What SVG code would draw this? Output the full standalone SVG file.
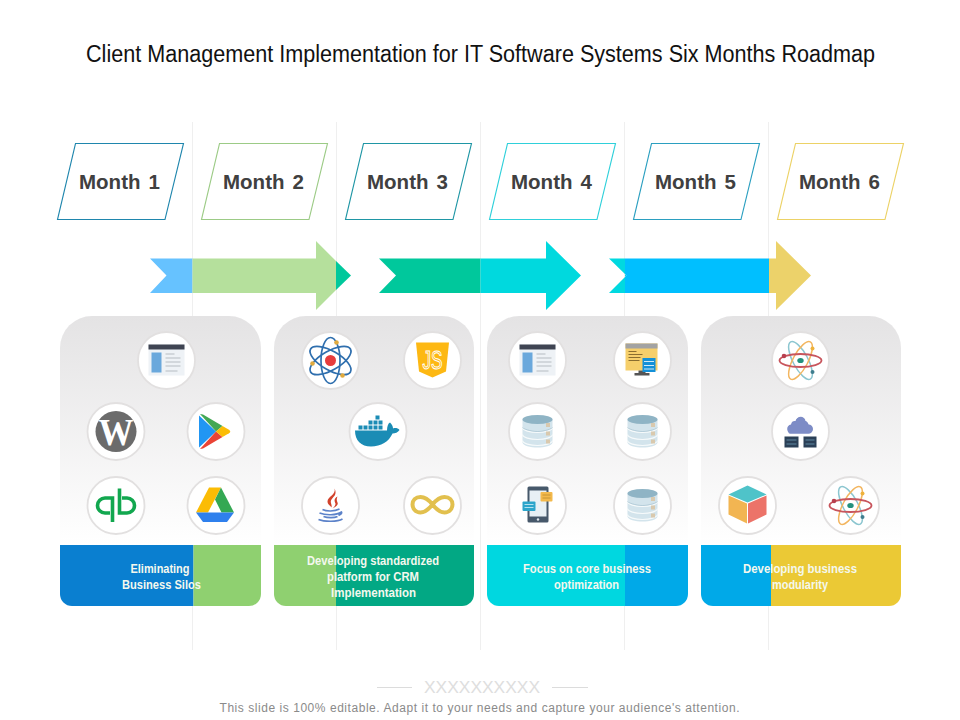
<svg xmlns="http://www.w3.org/2000/svg" width="960" height="720" viewBox="0 0 960 720">
<style>
text{font-family:"Liberation Sans",Arial,sans-serif}
.title{font-size:23.500px;fill:#111;text-anchor:middle}
.mon{font-size:20.500px;font-weight:700;fill:#404040;text-anchor:middle;word-spacing:2.400px}
.lab{font-family:"Liberation Sans Narrow","Liberation Sans",Arial,sans-serif;font-size:12.500px;font-weight:700;fill:#f4f8ee;text-anchor:middle}
.foot{font-size:12px;fill:#8a8a8a;text-anchor:middle}
.guide{stroke:#efefef;stroke-width:1;fill:none}
.para{fill:#fff;stroke-width:1.100}
.disc{fill:#fff;stroke:#e2e0e0;stroke-width:1.800}
</style>
<defs>
<linearGradient id="pg" x1="0" y1="0" x2="0" y2="1">
<stop offset="0" stop-color="#e4e3e4"/><stop offset="1" stop-color="#ffffff"/>
</linearGradient>
<g id="browser">
<rect x="-18" y="-16" width="36" height="31" fill="#eef2f6"/>
<rect x="-18" y="-16" width="36" height="5" fill="#3f4452"/>
<rect x="-15" y="-8" width="10" height="20" fill="#6aa8dc"/>
<path d="M-1-6.500H8M-1-2.500H14M-1 1.500H14M-1 5.500H14M-1 10.500H11" stroke="#c9ced3" stroke-width="1.300" fill="none"/>
</g>
<g id="db">
<path d="M-15-12V11C-15 14 -7 16 0 16S15 14 15 11V-12Z" fill="#d3e4ec"/>
<path d="M-15-4C-15-1-7 1 0 1S15-1 15-4M-15 3C-15 6-7 8 0 8S15 6 15 3M-15 9C-15 12-7 14 0 14S15 12 15 9" stroke="#f6fafb" stroke-width="1.200" fill="none"/>
<path d="M-15-4C-15-3-7 0 0 0S15-3 15-4" stroke="#9dbccb" stroke-width="0.600" fill="none"/>
<ellipse cx="0" cy="-12" rx="15" ry="4.500" fill="#8fb4c5"/>
<rect x="8.500" y="-8.500" width="4" height="4" fill="#d9c9ae"/><rect x="8.500" y="0" width="4" height="4" fill="#d9c9ae"/><rect x="8.500" y="8" width="4" height="4" fill="#d9c9ae"/>
</g>
<g id="atom2">
<ellipse rx="21" ry="7.500" transform="rotate(62)" fill="none" stroke="#8cc6d0" stroke-width="1.500"/>
<ellipse rx="21" ry="7.500" transform="rotate(-62)" fill="none" stroke="#f3b660" stroke-width="1.500"/>
<ellipse rx="21" ry="6.500" fill="none" stroke="#c8555c" stroke-width="1.800"/>
<ellipse rx="3.200" ry="2.600" fill="#23917d"/>
<circle cx="-16.500" cy="-4.500" r="2.300" fill="#b8404f"/>
<circle cx="12" cy="-12" r="2" fill="#eeb23c"/>
<circle cx="12" cy="11.500" r="2" fill="#3f7d8e"/>
</g>
</defs>
<rect width="960" height="720" fill="#fff"/>
<text class="title" x="480.500" y="62" textLength="789" lengthAdjust="spacingAndGlyphs">Client Management Implementation for IT Software Systems Six Months Roadmap</text>

<g id="connectors">
<path class="guide" d="M192.500 122V650M336.500 122V650M480.500 122V650M624.500 122V650M768.500 122V650"/>
<polygon points="150,258.500 192.500,258.500 192.500,293 150,293 166.500,275.500" fill="#66c2ff"/>
<polygon points="192.500,258.500 316,258.500 316,241 336,261 336,290 316,310 316,293 192.500,293" fill="#b5e09c"/>
<polygon points="336,261 351,275.500 336,290" fill="#00c89c"/>
<polygon points="379,258.500 480.500,258.500 480.500,293 379,293 396,275.500" fill="#00c89c"/>
<polygon points="480.500,258.500 546,258.500 546,241 581,275.500 546,310 546,293 480.500,293" fill="#00d9de"/>
<polygon points="609,258.500 625,258.500 625,293 609,293 626.500,275.500" fill="#00d9e0"/>
<polygon points="625,258.500 769,258.500 769,293 625,293 625,277 626.500,275.500 625,274" fill="#00bfff"/>
<polygon points="769,258.500 776,258.500 776,241 811,275.500 776,310 776,293 769,293" fill="#ecd26a"/>
</g>

<g id="month-1"><polygon class="para" points="75.500,143.500 183.500,143.500 165,219.500 57.500,219.500" stroke="#1f86ad"/><text class="mon" x="119.500" y="189">Month 1</text></g>
<g id="month-2"><polygon class="para" points="219.500,143.500 327.500,143.500 309,219.500 201.500,219.500" stroke="#9ccb86"/><text class="mon" x="263.500" y="189">Month 2</text></g>
<g id="month-3"><polygon class="para" points="363.500,143.500 471.500,143.500 453,219.500 345.500,219.500" stroke="#1f96a5"/><text class="mon" x="407.500" y="189">Month 3</text></g>
<g id="month-4"><polygon class="para" points="507.500,143.500 615.500,143.500 597,219.500 489.500,219.500" stroke="#2fd0da"/><text class="mon" x="551.500" y="189">Month 4</text></g>
<g id="month-5"><polygon class="para" points="651.500,143.500 759.500,143.500 741,219.500 633.500,219.500" stroke="#2b9fc0"/><text class="mon" x="695.500" y="189">Month 5</text></g>
<g id="month-6"><polygon class="para" points="795.500,143.500 903.500,143.500 885,219.500 777.500,219.500" stroke="#ecd266"/><text class="mon" x="839.500" y="189">Month 6</text></g>

<g id="panel-1">
<path d="M60 545V348A32 32 0 0 1 92 316H229A32 32 0 0 1 261 348V545Z" fill="url(#pg)"/>
<path d="M60 545H193.500V606H72A12 12 0 0 1 60 594Z" fill="#0a7fd0"/>
<path d="M193.500 545H261V594A12 12 0 0 1 249 606H193.500Z" fill="#8fd070"/>
<text class="lab" x="160" y="573" textLength="59" lengthAdjust="spacingAndGlyphs">Eliminating</text>
<text class="lab" x="161.500" y="589" textLength="79" lengthAdjust="spacingAndGlyphs">Business Silos</text>

<g id="icon-browser-1" transform="translate(166.500 360.500)"><circle class="disc" r="28.500"/><use href="#browser"/></g>
<g id="icon-wordpress" transform="translate(116 431.500)"><circle class="disc" r="28.500"/><circle r="20.500" fill="#6b6b6b"/><text x="0" y="13" text-anchor="middle" style="font-family:'Liberation Serif',serif;font-size:37px;font-weight:700;fill:#fff" textLength="35" lengthAdjust="spacingAndGlyphs">W</text></g>
<g id="icon-play" transform="translate(216 431.500)"><circle class="disc" r="28.500"/>
<polygon points="-17,-16 -17,16 0,0" fill="#2196f3"/>
<polygon points="-16,-17.500 -13,-17 6.500,-5.500 0,0" fill="#43a854"/>
<polygon points="-16,17.500 -13,17 6.500,5.500 0,0" fill="#ea4335"/>
<path d="M6.500-5.500 13-1.800Q15.500 0 13 1.800L6.500 5.500 0 0Z" fill="#fbbc05"/></g>
<g id="icon-qb" transform="translate(116 505.500)"><circle class="disc" r="28.500"/>
<path d="M-6 7.500H-11A7.500 7.500 0 0 1-11-7.500H-3.500V16.500M6-7.500H11A7.500 7.500 0 0 1 11 7.500H3.500V-17" fill="none" stroke="#12a74f" stroke-width="3.600"/></g>
<g id="icon-drive" transform="translate(216 505.500)"><circle class="disc" r="28.500"/>
<polygon points="-7,-18 5,-18 -8,7 -20,7" fill="#fbbc05"/>
<polygon points="5,-18 18,7 5.500,7 -1,-6" fill="#34a853"/>
<polygon points="-20,7 18,7 11,16.500 -13,16.500" fill="#2f80ed"/></g>
</g>

<g id="panel-2">
<path d="M274 545V348A32 32 0 0 1 306 316H442A32 32 0 0 1 474 348V545Z" fill="url(#pg)"/>
<path d="M274 545H336V606H286A12 12 0 0 1 274 594Z" fill="#8fd070"/>
<path d="M336 545H474V594A12 12 0 0 1 462 606H336Z" fill="#02a884"/>
<text class="lab" x="373" y="565" textLength="132" lengthAdjust="spacingAndGlyphs">Developing standardized</text>
<text class="lab" x="373" y="581" textLength="92" lengthAdjust="spacingAndGlyphs">platform for CRM</text>
<text class="lab" x="373.500" y="597" textLength="85" lengthAdjust="spacingAndGlyphs">Implementation</text>

<g id="icon-atom" transform="translate(330.500 360.500)"><circle class="disc" r="28.500"/>
<g fill="none" stroke="#2f6fae" stroke-width="1.700"><ellipse rx="23" ry="9.500" transform="rotate(30)"/><ellipse rx="23" ry="9.500" transform="rotate(-30)"/><ellipse rx="23" ry="9.500" transform="rotate(90)"/></g>
<circle r="5.500" fill="#e63c3c"/><circle cx="6" cy="-18" r="2.300" fill="#e0aa3e"/><circle cx="-18" cy="3" r="2.300" fill="#e0aa3e"/><circle cx="12" cy="15" r="2.300" fill="#e0aa3e"/></g>
<g id="icon-js" transform="translate(432.500 360.500)"><circle class="disc" r="28.500"/>
<polygon points="-16.500,-18 16.500,-18 13.500,11 0,17 -13.500,11" fill="#fdb813"/>
<text x="0" y="8" text-anchor="middle" style="font-size:25px;fill:none;stroke:#fff;stroke-width:1" textLength="20" lengthAdjust="spacingAndGlyphs">JS</text></g>
<g id="icon-docker" transform="translate(378 431.500)"><circle class="disc" r="28.500"/>
<g fill="#1b8cb5">
<path d="M-23-1H9C9-5 10-8 12-9 14-7 15-5 15-3 17-4 20-3.500 21.500-1.500 20 1 17 2 14.500 2 11 10 3 15-7 15-17 15-23 9-23-1Z"/>
<rect x="-19.500" y="-6" width="4" height="4"/><rect x="-14.500" y="-6" width="4" height="4"/><rect x="-9.500" y="-6" width="4" height="4"/><rect x="-4.500" y="-6" width="4" height="4"/><rect x="0.500" y="-6" width="4" height="4"/>
<rect x="-9.500" y="-11" width="4" height="4"/><rect x="-4.500" y="-11" width="4" height="4"/><rect x="0.500" y="-11" width="4" height="4"/>
<rect x="-2.500" y="-16" width="4" height="4"/></g></g>
<g id="icon-java" transform="translate(330.500 505.500)"><circle class="disc" r="28.500"/>
<path d="M4-17C6-11-3-9-3-4-3-1 0 0 1 2 2-1-1-3 1-6 3-9 7-11 4-17ZM7-9C3-7 4-4 5-2 5 0 4 1 2 3 6 1 8-1 7-3 6-5 6-7 7-9Z" fill="#d2422b"/>
<path d="M-8 4C-4 6 4 6 9 3.500M-11 7.500C-5 10 6 10 11 6.500 12 8 10 9 8 10M-7 11C-3 12.500 4 12.500 7 11M-12 14C-6 16.500 7 16.500 12 13.500" fill="none" stroke="#5c82c9" stroke-width="1.600"/></g>
<g id="icon-infinity" transform="translate(432.500 505.500)"><circle class="disc" r="28.500"/>
<path d="M0-1C-4-6-8-8.500-12-8.500-17-8.500-20-5-20-1S-17 7-12 7C-8 7-4 4 0-1 4-6 8-8.500 12-8.500 17-8.500 20-5 20-1S17 7 12 7C8 7 4 4 0-1Z" fill="none" stroke="#e2c04e" stroke-width="4"/></g>
</g>

<g id="panel-3">
<path d="M487 545V348A32 32 0 0 1 519 316H656A32 32 0 0 1 688 348V545Z" fill="url(#pg)"/>
<path d="M487 545H625V606H499A12 12 0 0 1 487 594Z" fill="#00d7e0"/>
<path d="M625 545H688V594A12 12 0 0 1 676 606H625Z" fill="#00a9e8"/>
<text class="lab" x="587" y="573" textLength="128" lengthAdjust="spacingAndGlyphs">Focus on core business</text>
<text class="lab" x="586.500" y="589" textLength="65" lengthAdjust="spacingAndGlyphs">optimization</text>

<g id="icon-browser-2" transform="translate(537.500 360.500)"><circle class="disc" r="28.500"/><use href="#browser"/></g>
<g id="icon-monitor" transform="translate(642.500 360.500)"><circle class="disc" r="28.500"/>
<rect x="-17" y="-17" width="32" height="27" fill="#f6cf6b"/><rect x="-17" y="-17" width="32" height="5" fill="#a3a3a3"/>
<path d="M-14-9H-6M-14-6H0M-14-3H-2M-14 0H-3" stroke="#8a6d2f" stroke-width="1" fill="none"/>
<rect x="-4" y="10" width="7" height="3" fill="#555"/><rect x="-8" y="12.500" width="15" height="2.500" fill="#555"/>
<rect x="0" y="-2.500" width="13" height="14" fill="#1390d8"/><path d="M1.500 1H11.500M1.500 5H11.500M1.500 8.500H11.500" stroke="#cfeaf8" stroke-width="1" fill="none"/></g>
<g id="icon-db-1" transform="translate(537.500 431.500)"><circle class="disc" r="28.500"/><use href="#db"/></g>
<g id="icon-db-2" transform="translate(642.500 431.500)"><circle class="disc" r="28.500"/><use href="#db"/></g>
<g id="icon-phone" transform="translate(537.500 505.500)"><circle class="disc" r="28.500"/>
<rect x="-10" y="-19" width="21" height="36" rx="1.500" fill="#47596b"/><rect x="-8" y="-15" width="17" height="26" fill="#e8f0f5"/><circle cx="0.500" cy="14" r="1.200" fill="#dfe6ea"/>
<rect x="3" y="-13.500" width="12" height="9.500" rx="1" fill="#f3b94c"/><path d="M5-10.500H13M5-7.500H13" stroke="#b98a2d" stroke-width="0.800"/>
<rect x="-15" y="-4" width="13" height="9.500" rx="1" fill="#2ca5cb"/><path d="M-13-1H-4M-13 2H-4" stroke="#d4f0f8" stroke-width="0.800"/></g>
<g id="icon-db-3" transform="translate(642.500 505.500)"><circle class="disc" r="28.500"/><use href="#db"/></g>
</g>

<g id="panel-4">
<path d="M701 545V348A32 32 0 0 1 733 316H869A32 32 0 0 1 901 348V545Z" fill="url(#pg)"/>
<path d="M701 545H771V606H713A12 12 0 0 1 701 594Z" fill="#00a9e8"/>
<path d="M771 545H901V594A12 12 0 0 1 889 606H771Z" fill="#ebc935"/>
<text class="lab" x="800" y="573" textLength="114" lengthAdjust="spacingAndGlyphs">Developing business</text>
<text class="lab" x="800" y="589" textLength="56" lengthAdjust="spacingAndGlyphs">modularity</text>

<g id="icon-atom-2" transform="translate(800.500 360.500)"><circle class="disc" r="28.500"/><use href="#atom2"/></g>
<g id="icon-cloud" transform="translate(800.500 431.500)"><circle class="disc" r="28.500"/>
<path d="M-8 2A4.500 4.500 0 0 1-9.500-7C-9-10-7-11-5-10.500-4-15 3-17 5-11-1-12 7-12 8-7A4.500 4.500 0 0 1 8 2Z" fill="#7d8cc6"/>
<path d="M-11.500 2A5 5 0 0 1-9-6C-8-9-6-9.500-5-9-4-16 4-16 5-9-7-9 11-8 8-6 13-6 13 2 8 2Z" fill="#7d8cc6"/>
<rect x="-16" y="5" width="14" height="11" fill="#2b4057"/><rect x="3" y="5" width="13" height="11" fill="#2b4057"/>
<path d="M-14 8.500H-4M-14 12.500H-4M5 8.500H14M5 12.500H14" stroke="#6d9db5" stroke-width="0.800"/></g>
<g id="icon-cube" transform="translate(747.500 505.500)"><circle class="disc" r="28.500"/>
<polygon points="0,-20 19,-11 0,-3 -19,-11" fill="#4fc3c9"/>
<polygon points="-19,-10 -0.500,-2 -0.500,18 -19,9" fill="#f2b552"/>
<polygon points="19,-10 0.500,-2 0.500,18 19,9" fill="#ec7369"/></g>
<g id="icon-atom-3" transform="translate(850.500 505.500)"><circle class="disc" r="28.500"/><use href="#atom2"/></g>
</g>

<g id="footer">
<path d="M377 687.500H412M552 687.500H588" stroke="#dcdcdc" stroke-width="1"/>
<text x="482" y="693" text-anchor="middle" style="font-size:17px;fill:#dedede" textLength="116" lengthAdjust="spacingAndGlyphs">XXXXXXXXXX</text>
<text class="foot" x="479.500" y="712" textLength="520" lengthAdjust="spacing">This slide is 100% editable. Adapt it to your needs and capture your audience's attention.</text>
</g>
</svg>
